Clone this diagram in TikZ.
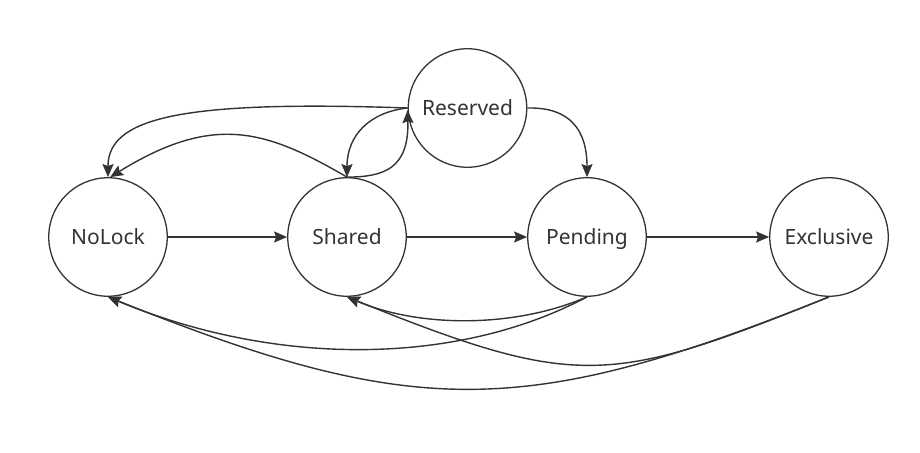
\documentclass[tikz,border=0pt]{standalone}
\usepackage{fontspec}
\setmainfont{Noto Sans}
\usetikzlibrary{arrows.meta}
\definecolor{ink}{HTML}{333333}
\begin{document}
\begin{tikzpicture}[x=1pt,y=-1pt,
  state/.style={circle,draw=ink,line width=1.3pt,minimum size=118.5pt,inner sep=0pt,text=ink,text height=14pt,text depth=0pt,font=\fontsize{21}{24}\selectfont},
  link/.style={draw=ink,line width=1.4pt,-{Stealth[length=13pt,width=11pt,inset=2pt]}}]
\useasboundingbox (0,0) rectangle (920,452);
\node[state] (nolock) at (108,237) {NoLock};
\node[state] (shared) at (347,237) {Shared};
\node[state] (pending) at (587,237) {Pending};
\node[state] (exclusive) at (829,237) {Exclusive};
\node[state] (reserved) at (467.5,108) {Reserved};
\draw[link] (nolock.east) -- (shared.west);
\draw[link] (shared.east) -- (pending.west);
\draw[link] (pending.east) -- (exclusive.west);
\draw[link] (reserved.west) .. controls (180,100) and (108,118) .. (nolock.north);
\draw[link] (shared.north) .. controls (266,130) and (214,113) .. (nolock.88);
\draw[link] (shared.north) .. controls (385,177) and (409,168) .. (reserved.182);
\draw[link] (reserved.west) .. controls (370,112) and (347,135) .. (shared.north);
\draw[link] (reserved.east) .. controls (570,107) and (587,130) .. (pending.north);
\draw[link] (pending.south) .. controls (515,328) and (420,328) .. (shared.south);
\draw[link] (pending.south) .. controls (455,367) and (273,366) .. (nolock.south);
\draw[link] (exclusive.south) .. controls (610,385) and (578,390) .. (shared.south);
\draw[link] (exclusive.south) .. controls (525,419) and (415,420) .. (nolock.south);
\end{tikzpicture}
\end{document}
